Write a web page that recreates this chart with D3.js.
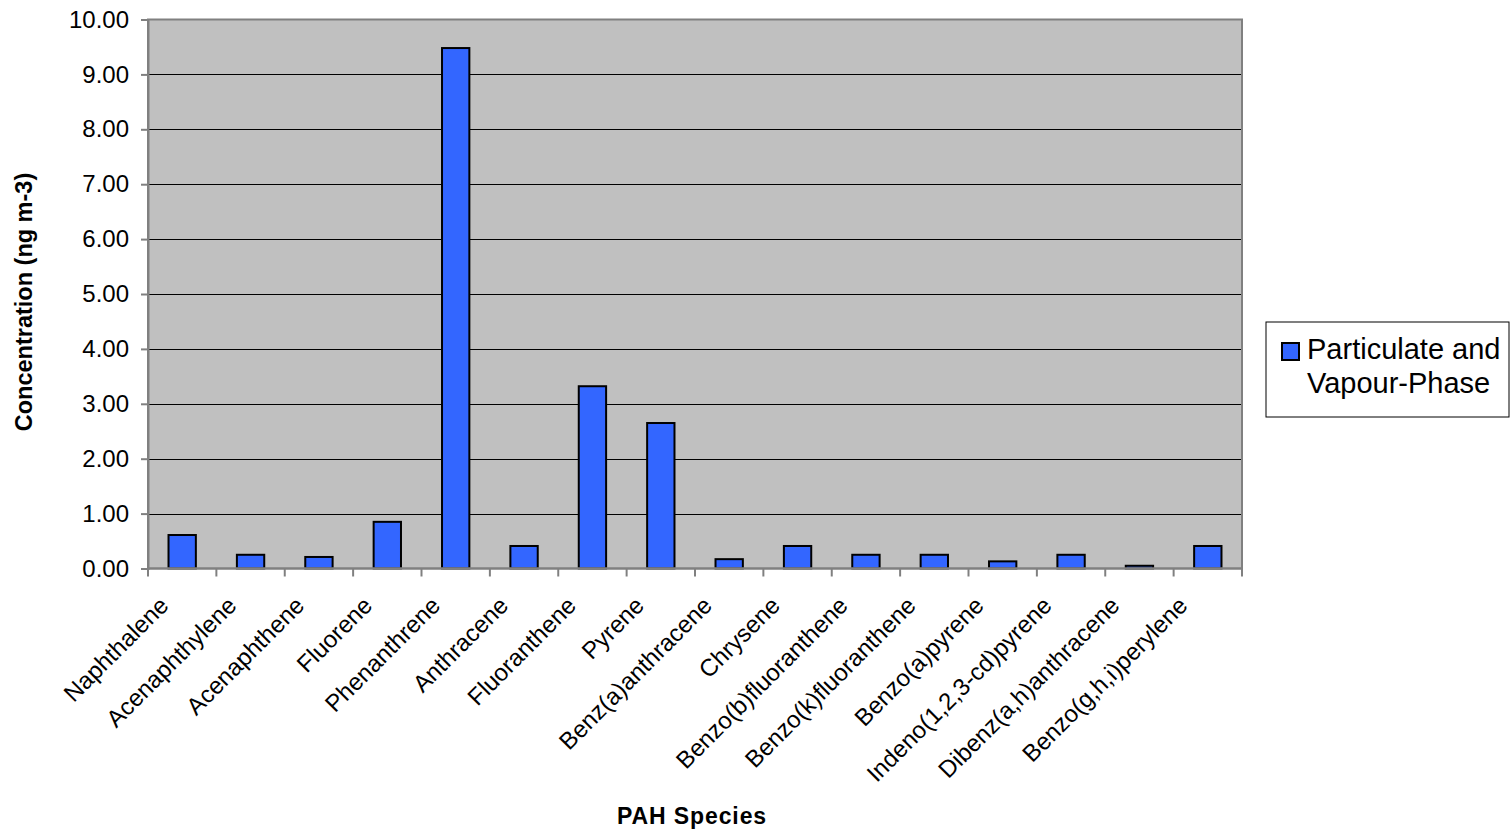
<!DOCTYPE html>
<html><head><meta charset="utf-8">
<script src="https://cdn.jsdelivr.net/npm/d3@7"></script>
<style>body{margin:0;background:#fff;}svg{display:block;font-family:"Liberation Sans",Arial,sans-serif;}</style>
</head><body>
<svg id="chart" width="1512" height="832"></svg>
<script>
const categories = ["Naphthalene","Acenaphthylene","Acenaphthene","Fluorene","Phenanthrene","Anthracene","Fluoranthene","Pyrene","Benz(a)anthracene","Chrysene","Benzo(b)fluoranthene","Benzo(k)fluoranthene","Benzo(a)pyrene","Indeno(1,2,3-cd)pyrene","Dibenz(a,h)anthracene","Benzo(g,h,i)perylene"];
const values = [0.61,0.25,0.21,0.85,9.48,0.41,3.32,2.65,0.17,0.41,0.25,0.25,0.13,0.25,0.05,0.41];
const yTicks = [0,1,2,3,4,5,6,7,8,9,10];
const seriesName = ["Particulate and","Vapour-Phase"];

const svg = d3.select("#chart");
const L = 148, R = 1242, T = 19.5, B = 568.5;
const x = d3.scaleBand().domain(categories).range([L, R]).paddingInner(0.6).paddingOuter(0.3);
const xb = d3.scaleBand().domain(categories).range([L, R]);
const xl = d3.scalePoint().domain(categories).range([164, 1183]);
const y = d3.scaleLinear().domain([0, 10]).range([B, T]);

svg.append("rect").attr("x", L).attr("y", T).attr("width", R - L).attr("height", B - T).attr("fill", "#c0c0c0");

// gridlines
svg.append("g").selectAll("line").data(yTicks.filter(d => d > 0 && d < 10)).join("line")
  .attr("x1", L).attr("x2", R).attr("y1", d => Math.round(y(d)) + 0.5).attr("y2", d => Math.round(y(d)) + 0.5)
  .attr("stroke", "#000").attr("stroke-width", 1);

// bars
svg.append("g").selectAll("rect").data(values).join("rect")
  .attr("x", (d, i) => x(categories[i]))
  .attr("width", x.bandwidth())
  .attr("y", d => y(d))
  .attr("height", d => B - y(d))
  .attr("fill", "#3366ff").attr("stroke", "#000").attr("stroke-width", 2);

// plot border
svg.append("rect").attr("x", L).attr("y", T).attr("width", R - L).attr("height", B - T)
  .attr("fill", "none").attr("stroke", "#808080").attr("stroke-width", 2);

// y axis
const yAxis = d3.axisLeft(y).tickValues(yTicks).tickFormat(d3.format(".2f")).tickSize(7).tickPadding(12);
const gy = svg.append("g").attr("transform", `translate(${L},0)`).call(yAxis);
gy.select(".domain").attr("stroke", "#808080").attr("stroke-width", 2);
gy.selectAll(".tick line").attr("stroke", "#808080").attr("stroke-width", 2);
gy.selectAll(".tick text").attr("font-size", 24).attr("fill", "#000").attr("font-family", "Liberation Sans, Arial, sans-serif");

// x axis ticks at boundaries
const bounds = categories.map(c => xb(c)).concat([R]);
svg.append("g").selectAll("line").data(bounds).join("line")
  .attr("x1", d => d).attr("x2", d => d).attr("y1", B).attr("y2", B + 8)
  .attr("stroke", "#808080").attr("stroke-width", 2);
svg.append("line").attr("x1", L).attr("x2", R).attr("y1", B).attr("y2", B).attr("stroke", "#808080").attr("stroke-width", 2);

// x labels
svg.append("g").selectAll("text").data(categories).join("text")
  .attr("transform", d => `translate(${xl(d)},${601}) rotate(-45)`)
  .attr("text-anchor", "end").attr("dy", "0.35em")
  .attr("font-size", 24).attr("fill", "#000")
  .text(d => d);

// axis titles
svg.append("text").attr("x", 692).attr("y", 824).attr("text-anchor", "middle")
  .attr("font-size", 23).attr("font-weight", "bold").attr("letter-spacing", 0.9).text("PAH Species");
svg.append("text").attr("transform", "translate(32,302) rotate(-90)").attr("text-anchor", "middle")
  .attr("font-size", 23.5).attr("font-weight", "bold").text("Concentration (ng m-3)");

// legend
const lg = svg.append("g");
lg.append("rect").attr("x", 1266).attr("y", 322).attr("width", 243).attr("height", 95)
  .attr("fill", "#fff").attr("stroke", "#000").attr("stroke-width", 1);
lg.append("rect").attr("x", 1282).attr("y", 343).attr("width", 17).attr("height", 17)
  .attr("fill", "#3366ff").attr("stroke", "#000").attr("stroke-width", 2);
lg.selectAll("text.l").data(seriesName).join("text").attr("class", "l")
  .attr("x", 1307).attr("y", (d, i) => 359 + i * 34)
  .attr("font-size", 29).attr("fill", "#000").text(d => d);
</script>
</body></html>
